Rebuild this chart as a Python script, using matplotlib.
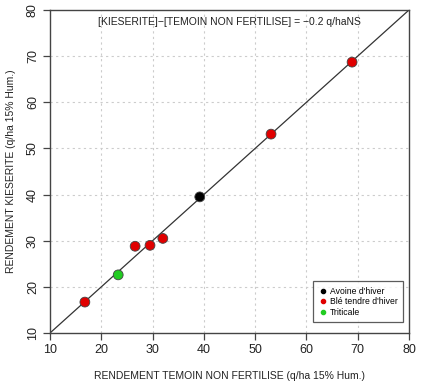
import matplotlib
matplotlib.use("Agg")
import matplotlib.pyplot as plt
from matplotlib.lines import Line2D

plt.rcParams['font.family'] = ['Liberation Sans', 'DejaVu Sans']

# yields (q/ha 15% Hum.)
temoin = [16.8, 23.3, 26.6, 29.5, 32.0, 39.2, 53.1, 68.9]
kieserite = [16.7, 22.6, 28.8, 29.0, 30.5, 39.5, 53.1, 68.7]
culture = ["Blé tendre d'hiver", "Triticale", "Blé tendre d'hiver", "Blé tendre d'hiver",
           "Blé tendre d'hiver", "Avoine d'hiver", "Blé tendre d'hiver", "Blé tendre d'hiver"]

legend_labels = ["Avoine d'hiver", "Blé tendre d'hiver", "Triticale"]
legend_colors = ["#000000", "#e00000", "#22cc22"]
ticks = [10, 20, 30, 40, 50, 60, 70, 80]

colour_of = dict(zip(legend_labels, legend_colors))

fig = plt.figure(figsize=(4.26, 3.88), dpi=100)
ax = fig.add_axes([50 / 426, 55 / 388, 359 / 426, 323 / 388])

ax.set_xlim(10, 80)
ax.set_ylim(10, 80)

# dotted grid
for t in ticks[1:-1]:
    ax.axvline(t, color='#cccccc', linestyle=(0, (2, 3)), linewidth=0.8, zorder=0)
    ax.axhline(t, color='#cccccc', linestyle=(0, (2, 3)), linewidth=0.8, zorder=0)

# 1:1 line
ax.plot([10, 80], [10, 80], color='#333333', linewidth=0.9, zorder=1)

ax.scatter(temoin, kieserite, c=[colour_of[c] for c in culture], s=50,
           edgecolors='#444444', linewidths=0.6, zorder=3)

ax.set_xticks(ticks)
ax.set_yticks(ticks)
ax.tick_params(direction='out', length=5, width=0.9, colors='#444444',
               labelsize=9, labelcolor='#222222', pad=3)
for lab in ax.get_yticklabels():
    lab.set_rotation(90)
    lab.set_va('center')
for s in ax.spines.values():
    s.set_color('#444444')
    s.set_linewidth(1.0)

ax.set_xlabel("RENDEMENT TEMOIN NON FERTILISE (q/ha 15% Hum.)", fontsize=7.5,
              color='#222222', labelpad=11)
ax.set_ylabel("RENDEMENT KIESERITE (q/ha 15% Hum.)", fontsize=7.5,
              color='#222222', labelpad=8)

ax.text(45, 77.5, "[KIESERITE]\u2212[TEMOIN NON FERTILISE] = \u22120.2 q/haNS",
        ha='center', va='center', fontsize=7.5, color='#222222')

handles = [Line2D([0], [0], marker='o', linestyle='none', markersize=3,
                  markerfacecolor=c, markeredgecolor=c) for c in legend_colors]
leg = ax.legend(handles, legend_labels, loc='lower right', fontsize=6.2,
                frameon=True, fancybox=False, edgecolor='#333333',
                handletextpad=0.2, borderpad=0.6, labelspacing=0.2,
                handlelength=1.2, bbox_to_anchor=(0.995, 0.02))
leg.get_frame().set_linewidth(0.9)

fig.savefig("out.png", dpi=100)
